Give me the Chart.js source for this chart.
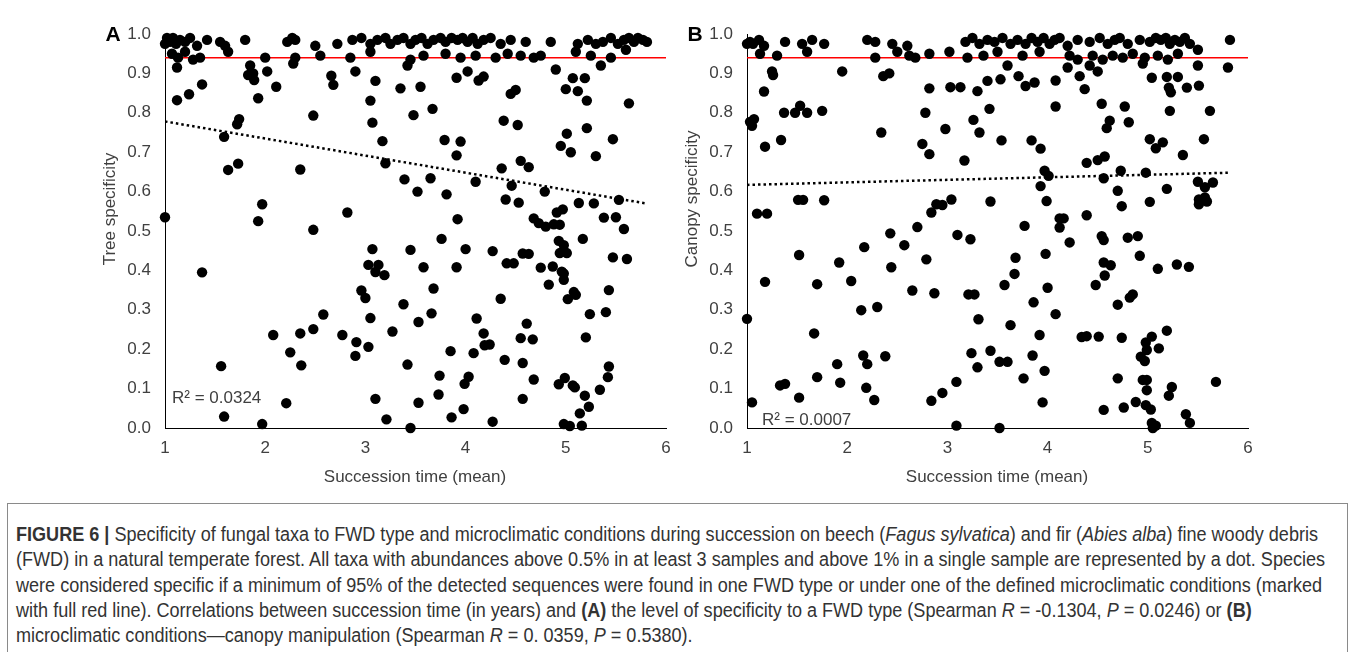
<!DOCTYPE html>
<html>
<head>
<meta charset="utf-8">
<script src="https://cdn.jsdelivr.net/npm/chart.js@4.4.1/dist/chart.umd.min.js"></script>
<style>
  html, body { margin: 0; padding: 0; background: #fff; }
  body { width: 1355px; height: 652px; position: relative; overflow: hidden;
         font-family: "Liberation Sans", Arial, sans-serif; color: #404040; }
  .panel { position: absolute; top: 0; width: 600px; height: 470px; }
  .lbl { position: absolute; font-size: 17px; white-space: nowrap; }
  .mid { transform: translate(-50%, -50%); }
  .ytitle { transform: translate(-50%, -50%) rotate(-90deg); }
  .tag { font-weight: bold; font-size: 21px; color: #000; }
  #box { position: absolute; left: 7px; top: 503px; width: 1341px; height: 200px;
         border: 1px solid #8a8a8a; box-sizing: border-box; }
  #caption { position: absolute; left: 16px; top: 522px; transform-origin: 0 0;
             font-family: "Liberation Sans Narrow", "Liberation Sans", Arial, sans-serif;
             font-size: 20px; line-height: 25.3px; color: #333; }
  #caption div { white-space: nowrap; width: max-content; }
</style>
</head>
<body>
<div class="panel" style="left:95px"><canvas id="chartA" width="600" height="470"></canvas></div>
<div class="panel" style="left:677px"><canvas id="chartB" width="600" height="470"></canvas></div>

<div class="lbl tag mid" style="left:113px; top:34px">A</div>
<div class="lbl tag mid" style="left:695px; top:34px">B</div>
<div class="lbl ytitle" style="left:110px; top:209px">Tree specificity</div>
<div class="lbl ytitle" style="left:692px; top:199px">Canopy specificity</div>
<div class="lbl mid" style="left:415px; top:477px">Succession time (mean)</div>
<div class="lbl mid" style="left:997px; top:477px">Succession time (mean)</div>
<div class="lbl" style="left:172px; top:388px">R² = 0.0324</div>
<div class="lbl" style="left:762px; top:410px">R² = 0.0007</div>

<div id="box"></div>
<div id="caption">
  <div><b>FIGURE 6 |</b> Specificity of fungal taxa to FWD type and microclimatic conditions during succession on beech (<i>Fagus sylvatica</i>) and fir (<i>Abies alba</i>) fine woody debris</div>
  <div>(FWD) in a natural temperate forest. All taxa with abundances above 0.5% in at least 3 samples and above 1% in a single sample are represented by a dot. Species</div>
  <div>were considered specific if a minimum of 95% of the detected sequences were found in one FWD type or under one of the defined microclimatic conditions (marked</div>
  <div>with full red line). Correlations between succession time (in years) and <b>(A)</b> the level of specificity to a FWD type (Spearman <i>R</i> = -0.1304, <i>P</i> = 0.0246) or <b>(B)</b></div>
  <div>microclimatic conditions—canopy manipulation (Spearman <i>R</i> = 0. 0359, <i>P</i> = 0.5380).</div>
</div>

<script>
const xTicks = [1, 2, 3, 4, 5, 6];
const yTicks = [0, 0.1, 0.2, 0.3, 0.4, 0.5, 0.6, 0.7, 0.8, 0.9, 1.0];
const specificLimit = 0.94;

// panel A: succession time vs tree specificity
const treePoints = [
  [1.0,0.975],[1.02,0.99],[1.05,0.98],[1.08,0.99],[1.11,0.975],[1.15,0.985],[1.2,0.98],[1.25,0.99],[1.32,0.97],[1.42,0.985],
  [1.55,0.98],[1.6,0.97],[1.8,0.985],[2.22,0.98],[2.27,0.99],[2.3,0.985],[2.5,0.97],[2.72,0.975],[2.87,0.985],[2.96,0.99],
  [3.05,0.975],[3.12,0.985],[3.2,0.99],[3.25,0.975],[3.32,0.985],[3.38,0.99],[3.45,0.975],[3.5,0.985],[3.56,0.99],[3.62,0.975],
  [3.68,0.985],[3.75,0.99],[3.8,0.98],[3.86,0.99],[3.92,0.985],[3.97,0.99],[4.02,0.98],[4.07,0.99],[4.12,0.975],[4.18,0.985],
  [4.25,0.99],[4.35,0.975],[4.45,0.985],[4.6,0.98],[4.85,0.98],[5.12,0.975],[5.22,0.985],[5.3,0.975],[5.37,0.98],[5.45,0.99],
  [5.52,0.975],[5.58,0.985],[5.63,0.99],[5.68,0.98],[5.72,0.99],[5.77,0.985],[5.81,0.98],
  [1.07,0.95],[1.13,0.94],[1.2,0.955],[1.28,0.935],[1.35,0.94],[1.63,0.955],[2.0,0.94],[2.3,0.94],[2.55,0.945],[2.85,0.94],
  [3.05,0.955],[3.45,0.935],[3.58,0.945],[3.8,0.95],[3.95,0.94],[4.1,0.945],[4.3,0.94],[4.42,0.95],[4.55,0.945],[4.68,0.94],
  [4.75,0.945],[5.1,0.955],[5.25,0.945],[5.45,0.94],[5.6,0.96],
  [1.12,0.915],[1.85,0.92],[1.88,0.9],[2.02,0.905],[2.28,0.925],[2.9,0.905],[3.42,0.92],[4.02,0.905],[4.9,0.91],[5.35,0.92],
  [1.12,0.832],[1.24,0.847],[1.37,0.872],[1.83,0.896],[1.89,0.883],[1.93,0.837],[2.11,0.866],[2.48,0.793],[1.74,0.784],[1.72,0.771],
  [1.59,0.739],[1.63,0.655],[1.73,0.671],[2.35,0.656],[1.97,0.568],[1.93,0.525],[2.48,0.503],[2.82,0.547],[1.0,0.535],[2.66,0.894],
  [2.68,0.871],[3.1,0.881],[3.05,0.831],[3.07,0.775],[3.17,0.728],[3.2,0.672],[3.07,0.454],[3.35,0.862],
  [3.55,0.866],[3.91,0.889],[4.13,0.882],[4.18,0.892],[3.48,0.794],[3.67,0.81],[3.79,0.731],[3.95,0.727],[3.91,0.692],[4.38,0.78],
  [4.52,0.769],[4.45,0.848],[4.5,0.858],[4.36,0.659],[4.55,0.678],[4.63,0.662],[4.46,0.615],[4.79,0.6],[3.39,0.631],[3.65,0.634],
  [3.52,0.6],[3.81,0.593],[4.1,0.625],[4.4,0.58],[4.53,0.572],[3.92,0.53],[3.76,0.48],[3.45,0.452],[4.0,0.454],[4.27,0.449],
  [4.68,0.532],[4.73,0.52],[4.8,0.511],[4.88,0.517],[4.94,0.516],[4.91,0.547],[4.97,0.555],[4.93,0.475],[4.98,0.464],[4.57,0.443],
  [4.63,0.442],[4.94,0.444],[5.01,0.444],[5.17,0.48],[5.13,0.571],[5.28,0.57],[5.53,0.579],[5.38,0.534],[5.5,0.535],[5.58,0.505],
  [5.01,0.747],[4.95,0.716],[5.05,0.7],[5.21,0.761],[5.3,0.69],[5.47,0.733],[5.0,0.86],[5.12,0.855],[5.21,0.831],[5.07,0.888],
  [5.19,0.888],[5.63,0.824],
  [1.37,0.395],[1.56,0.157],[1.59,0.029],[1.97,0.01],[2.08,0.236],[2.21,0.063],[2.25,0.192],[2.35,0.24],[2.36,0.159],[2.48,0.251],
  [2.58,0.288],[2.77,0.236],[2.91,0.218],[2.9,0.183],[2.96,0.349],[3.0,0.33],[3.03,0.206],[3.05,0.279],[3.03,0.414],[3.13,0.414],
  [3.1,0.396],[3.19,0.388],[3.1,0.074],[3.21,0.022],[3.27,0.245],
  [5.47,0.433],[5.61,0.429],[3.58,0.408],[3.91,0.408],[4.41,0.418],[4.48,0.418],[4.75,0.407],[4.87,0.41],[4.96,0.397],[4.98,0.392],
  [4.98,0.376],[4.83,0.364],[3.68,0.354],[4.35,0.328],[5.08,0.345],[5.1,0.338],[5.02,0.327],[5.43,0.35],[3.38,0.314],[3.66,0.291],
  [3.53,0.269],[4.11,0.278],[5.24,0.289],[5.4,0.294],[4.61,0.265],[4.18,0.24],[4.19,0.21],[4.24,0.212],[4.08,0.19],[4.55,0.228],
  [4.67,0.225],[5.2,0.23],[3.85,0.195],[4.39,0.173],[4.57,0.165],[3.42,0.161],[3.74,0.133],[4.03,0.13],[3.99,0.112],[4.68,0.123],
  [4.99,0.127],[4.93,0.111],[5.07,0.108],[5.09,0.103],[5.43,0.156],[5.42,0.129],[5.34,0.097],[5.19,0.082],[3.73,0.085],[3.53,0.064],
  [4.57,0.074],[5.23,0.054],[3.98,0.048],[3.86,0.027],[5.14,0.037],[4.27,0.016],[4.98,0.01],[5.04,0.005],[5.16,0.006],[3.45,0.0]
];
const treeTrend = [[1.0, 0.778], [5.8, 0.57]];

// panel B: succession time vs canopy specificity
const canopyPoints = [
  [1.0,0.975],[1.03,0.98],[1.06,0.975],[1.12,0.985],[1.17,0.97],[1.38,0.98],[1.55,0.975],[1.65,0.985],[1.77,0.975],[2.2,0.985],
  [2.28,0.98],[2.45,0.975],[2.6,0.97],[3.18,0.98],[3.25,0.99],[3.32,0.975],[3.4,0.985],[3.47,0.98],[3.55,0.99],[3.63,0.975],
  [3.7,0.985],[3.78,0.975],[3.84,0.99],[3.9,0.98],[3.96,0.99],[4.02,0.975],[4.07,0.985],[4.12,0.99],[4.2,0.97],[4.3,0.985],
  [4.42,0.98],[4.52,0.99],[4.6,0.975],[4.67,0.985],[4.72,0.99],[4.8,0.975],[4.92,0.985],[5.02,0.98],[5.08,0.99],[5.13,0.985],
  [5.18,0.99],[5.22,0.975],[5.27,0.985],[5.32,0.98],[5.37,0.99],[5.42,0.975],[5.82,0.985],
  [1.13,0.95],[1.3,0.945],[1.6,0.955],[2.28,0.94],[2.5,0.955],[2.62,0.945],[2.68,0.94],[2.82,0.95],[3.02,0.955],[3.2,0.94],
  [3.36,0.945],[3.5,0.955],[3.75,0.945],[3.92,0.955],[4.22,0.945],[4.3,0.935],[4.45,0.945],[4.55,0.935],[4.65,0.945],[4.75,0.94],
  [4.85,0.95],[4.97,0.94],[5.1,0.945],[5.2,0.935],[5.3,0.95],[5.5,0.96],
  [1.25,0.905],[1.95,0.905],[2.42,0.9],[3.6,0.92],[4.2,0.915],[4.42,0.92],[4.5,0.905],[4.95,0.925],[5.5,0.92],[5.8,0.915],
  [1.26,0.896],[2.36,0.893],[1.17,0.854],[1.03,0.777],[1.07,0.784],[1.05,0.767],[1.18,0.714],[1.34,0.731],[1.37,0.8],[1.48,0.8],
  [1.53,0.818],[1.6,0.8],[1.75,0.805],[2.34,0.75],[1.1,0.544],[1.2,0.544],[1.51,0.579],[1.56,0.579],[1.77,0.578],[1.52,0.439],
  [2.17,0.459],[2.43,0.494],[2.57,0.464],[2.7,0.51],[2.82,0.862],[3.03,0.865],[3.13,0.865],[3.3,0.855],[2.78,0.8],[2.75,0.721],
  [2.82,0.695],[2.98,0.759],[3.17,0.679],[3.26,0.782],[3.32,0.75],[2.84,0.547],[2.89,0.568],[2.95,0.566],[3.04,0.58],[3.1,0.49],
  [3.23,0.479],
  [3.4,0.881],[3.53,0.885],[3.71,0.893],[3.78,0.868],[3.87,0.877],[4.08,0.882],[4.32,0.893],[4.37,0.86],[3.42,0.81],[3.54,0.73],
  [3.84,0.73],[3.93,0.709],[4.08,0.816],[4.54,0.823],[4.77,0.816],[4.62,0.78],[4.59,0.761],[4.81,0.776],[5.04,0.889],[5.19,0.891],
  [5.3,0.891],[5.21,0.864],[5.23,0.852],[5.39,0.864],[5.51,0.869],[5.22,0.805],[5.62,0.805],[5.02,0.733],[5.15,0.725],[5.08,0.71],
  [5.56,0.733],[5.35,0.693],[3.97,0.653],[4.01,0.64],[4.39,0.673],[4.5,0.68],[4.57,0.689],[4.73,0.653],[4.98,0.648],[4.56,0.634],
  [3.93,0.614],[4.7,0.602],[5.19,0.607],[5.5,0.625],[5.57,0.611],[5.65,0.623],[5.51,0.58],[5.57,0.585],[5.59,0.575],[5.51,0.568],
  [3.43,0.575],[3.99,0.576],[4.74,0.563],[5.02,0.574],[4.12,0.532],[4.16,0.532],[4.12,0.509],[4.39,0.54],[3.77,0.513],[4.22,0.471],
  [4.54,0.487],[4.56,0.477],[4.8,0.483],[4.9,0.487],
  [1.92,0.42],[1.18,0.371],[1.7,0.365],[2.04,0.373],[2.44,0.408],[2.79,0.428],[2.65,0.349],[2.87,0.342],[3.21,0.339],[3.27,0.339],
  [2.14,0.299],[2.3,0.307],[1.0,0.277],[3.31,0.276],[1.67,0.24],[2.16,0.184],[2.2,0.162],[2.38,0.182],[1.9,0.162],[3.24,0.19],
  [3.3,0.154],[1.7,0.129],[1.33,0.108],[1.38,0.112],[1.93,0.115],[2.19,0.102],[1.05,0.065],[1.52,0.077],[2.27,0.071],[2.84,0.069],
  [2.95,0.089],[3.09,0.117],[3.09,0.006],
  [3.68,0.432],[3.98,0.442],[3.67,0.391],[3.57,0.363],[4.0,0.356],[3.86,0.319],[4.08,0.289],[3.63,0.261],[3.92,0.236],[3.43,0.196],
  [3.52,0.168],[3.6,0.168],[3.85,0.184],[3.97,0.145],[3.76,0.126],[3.95,0.065],[3.52,0.0],[4.56,0.42],[4.63,0.413],[4.57,0.387],
  [4.48,0.363],[4.92,0.437],[5.1,0.404],[5.29,0.415],[5.41,0.409],[4.85,0.339],[4.82,0.331],[4.7,0.313],[4.34,0.231],[4.39,0.233],
  [4.51,0.232],[4.74,0.229],[5.04,0.232],[4.98,0.217],[4.99,0.198],[4.93,0.181],[4.97,0.17],[5.19,0.247],[5.11,0.202],[4.7,0.126],
  [4.95,0.122],[4.99,0.122],[4.99,0.096],[5.24,0.104],[5.21,0.082],[5.68,0.117],[4.56,0.046],[4.76,0.052],[4.88,0.066],[4.98,0.058],
  [5.03,0.047],[5.38,0.035],[5.42,0.013],[5.04,0.013],[5.08,0.006],[5.05,0.0]
];
const canopyTrend = [[1.0, 0.617], [5.82, 0.648]];

const FONT = '"Liberation Sans", Arial, sans-serif';

function toXY(pairs) {
  return pairs.map(p => ({ x: p[0], y: p[1] }));
}

function drawPanel(id, points, trend) {
  const ctx = document.getElementById(id);
  const limitLine = [[xTicks[0], specificLimit], [xTicks[xTicks.length - 1], specificLimit]];
  return new Chart(ctx, {
    type: 'scatter',
    data: {
      datasets: [
        {
          data: toXY(points),
          backgroundColor: '#000',
          borderWidth: 0,
          pointRadius: 5.2,
          clip: false
        },
        {
          data: toXY(trend),
          showLine: true,
          borderColor: '#000',
          borderWidth: 2.5,
          borderDash: [2.5, 3],
          pointRadius: 0,
          fill: false
        },
        {
          data: toXY(limitLine),
          showLine: true,
          borderColor: '#ff0000',
          borderWidth: 1.5,
          pointRadius: 0,
          fill: false
        }
      ]
    },
    options: {
      responsive: false,
      animation: false,
      events: [],
      layout: { padding: { left: 0, right: 29, top: 34, bottom: 0 } },
      plugins: { legend: { display: false }, tooltip: { enabled: false } },
      scales: {
        x: {
          type: 'linear',
          min: xTicks[0],
          max: xTicks[xTicks.length - 1],
          afterBuildTicks: s => { s.ticks = xTicks.map(v => ({ value: v })); },
          afterFit: s => { s.height = 42; },
          grid: { display: false, drawTicks: false },
          border: { display: true, color: '#000', width: 1 },
          ticks: { padding: 10, color: '#404040', font: { family: FONT, size: 17 },
                   callback: v => String(v) }
        },
        y: {
          min: 0,
          max: 1,
          afterBuildTicks: s => { s.ticks = yTicks.map(v => ({ value: v })); },
          afterFit: s => { s.width = 70; },
          grid: { display: false, drawTicks: false },
          border: { display: true, color: '#000', width: 1 },
          ticks: { padding: 14, color: '#404040', font: { family: FONT, size: 17 },
                   callback: v => v.toFixed(1) }
        }
      }
    }
  });
}

drawPanel('chartA', treePoints, treeTrend);
drawPanel('chartB', canopyPoints, canopyTrend);

// squeeze caption so the first line spans the same width as the figure text
const cap = document.getElementById('caption');
const firstLine = cap.children[0].getBoundingClientRect().width;
cap.style.transform = 'scaleX(' + (1302 / firstLine) + ')';
</script>
</body>
</html>
